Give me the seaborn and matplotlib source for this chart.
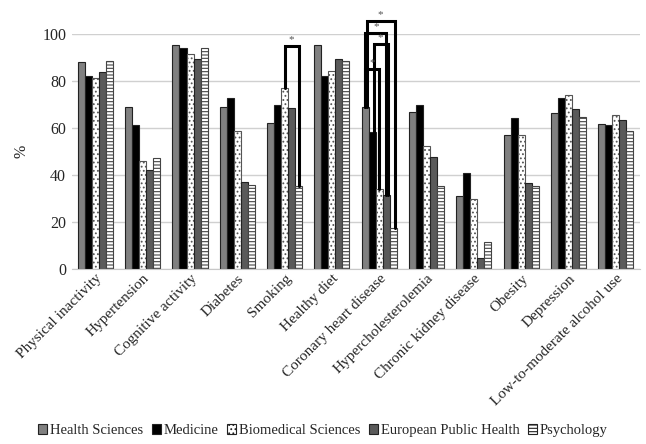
import pandas as pd
import matplotlib
matplotlib.use('Agg')
import matplotlib.pyplot as plt
import seaborn as sns

# 各危险因素被认为与痴呆相关的百分比
factors = ['Physical inactivity', 'Hypertension', 'Cognitive activity', 'Diabetes',
           'Smoking', 'Healthy diet', 'Coronary heart disease', 'Hypercholesterolemia',
           'Chronic kidney disease', 'Obesity', 'Depression', 'Low-to-moderate alcohol use']
groups = ['Health Sciences', 'Medicine', 'Biomedical Sciences',
          'European Public Health', 'Psychology']

health_sci = [88, 69, 95.3, 69, 62, 95.2, 69, 66.7, 31, 57, 66.6, 61.7]
medicine = [82, 61.5, 94, 73, 70, 82, 58.4, 70, 41, 64.3, 73, 61.5]
biomedical = [81.5, 46, 91.5, 58.7, 77, 84.4, 34, 52.6, 30, 57, 74.1, 65.6]
eph = [84, 42, 89.4, 37, 68.4, 89.4, 31.6, 47.5, 4.8, 36.7, 68.3, 63.3]
psychology = [88.4, 47.4, 94.3, 35.6, 35.5, 88.4, 17.3, 35.3, 11.4, 35.4, 64.6, 58.7]

# 显著性标记: (因素, 组1, 组2, 高度)
sig_pairs = [
    ('Smoking', 'Biomedical Sciences', 'Psychology', 95),
    ('Coronary heart disease', 'Health Sciences', 'Biomedical Sciences', 85),
    ('Coronary heart disease', 'Medicine', 'European Public Health', 96),
    ('Coronary heart disease', 'Health Sciences', 'European Public Health', 100.5),
    ('Coronary heart disease', 'Health Sciences', 'Psychology', 105.5),
]

rows = []
for g, vals in zip(groups, [health_sci, medicine, biomedical, eph, psychology]):
    for f, v in zip(factors, vals):
        rows.append({'factor': f, 'group': g, 'pct': v})
df = pd.DataFrame(rows)

sns.set_style('white')
plt.rcParams['font.family'] = ['Liberation Serif', 'DejaVu Serif']
plt.rcParams['hatch.linewidth'] = 0.8

fig = plt.figure(figsize=(6.46, 4.44), dpi=100)
ax = fig.add_axes([0.111, 0.394, 0.879, 0.529])

colors = ['#808080', '#000000', '#ffffff', '#5a5a5a', '#ffffff']
ax = sns.barplot(data=df, x='factor', y='pct', hue='group', hue_order=groups,
                 order=factors, palette=colors, width=0.74, gap=0,
                 edgecolor='#222222', linewidth=0.8, ax=ax, legend=False)

for i, cont in enumerate(ax.containers):
    for p in cont:
        if i == 2:
            p.set_edgecolor('#555555')
            p.set_hatch('....')
        if i == 4:
            p.set_hatch('-----')
            p.set_edgecolor('#444444')

# 显著性括号
lookup = {g: ax.containers[i] for i, g in enumerate(groups)}
offsets = {}
for f, g1, g2, h in sig_pairs:
    k = factors.index(f)
    b1 = lookup[g1][k]
    b2 = lookup[g2][k]
    x1 = b1.get_x() + b1.get_width() / 2
    x2 = b2.get_x() + b2.get_width() / 2
    n = offsets.get(f, 0)
    shift = 0.03 * (n % 2)
    x1 += shift
    x2 += shift
    offsets[f] = n + 1
    y1 = df[(df.factor == f) & (df.group == g1)].pct.iloc[0]
    y2 = df[(df.factor == f) & (df.group == g2)].pct.iloc[0]
    ax.plot([x1, x1, x2, x2], [y1, h, h, y2], color='black', lw=2.2,
            clip_on=False, solid_joinstyle='miter')
    ax.text((x1 + x2) / 2, h + 0.8, '*', ha='center', va='bottom',
            fontsize=8, color='#555555', clip_on=False)

ax.set_ylim(0, 100)
ax.set_xlim(-0.5, len(factors) - 0.5)
ax.set_yticks([0, 20, 40, 60, 80, 100])
ax.yaxis.grid(True, color='#d0d0d0', lw=1)
ax.set_axisbelow(True)
for s in ['top', 'right', 'left']:
    ax.spines[s].set_visible(False)
ax.spines['bottom'].set_color('#c8c8c8')
ax.tick_params(axis='y', labelsize=11.5, length=0, pad=4)
ax.tick_params(axis='x', labelsize=11, length=0, pad=2)
plt.setp(ax.get_xticklabels(), rotation=45, ha='right', rotation_mode='anchor')
ax.set_xlabel('')
ax.set_ylabel('%', fontsize=11.5, labelpad=9)

handles = [matplotlib.patches.Patch(facecolor=c, edgecolor='#222222', lw=0.8)
           for c in colors]
handles[2].set_hatch('....')
handles[4].set_hatch('-----')
fig.legend(handles, groups, loc='center', bbox_to_anchor=(0.5, 0.03), ncol=5,
           frameon=False, fontsize=10.5, handlelength=0.6, handleheight=0.6,
           handletextpad=0.2, columnspacing=0.6)

fig.savefig('out.png', dpi=100)
